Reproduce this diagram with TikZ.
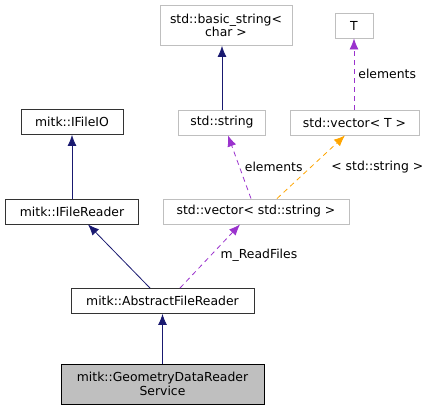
\documentclass[tikz,border=0pt]{standalone}
\usepackage{fontspec}
\setmainfont{DejaVu Sans}
\usetikzlibrary{arrows.meta}
\definecolor{navy}{HTML}{191970}
\definecolor{orchid}{HTML}{9A32CD}
\definecolor{orangeA}{HTML}{FFA500}
\definecolor{boxgray}{HTML}{BFBFBF}
\definecolor{mainfill}{HTML}{BFBFBF}
\begin{document}
\begin{tikzpicture}[x=1pt,y=-1pt,
  every node/.style={font=\fontsize{12.4}{13.5}\selectfont, inner sep=0pt, text=black},
  cls/.style={draw=black!80, line width=0.9pt, minimum height=25pt, align=center},
  ext/.style={draw=boxgray, line width=0.9pt, minimum height=25pt, align=center},
  mainbox/.style={draw=black, fill=mainfill, line width=0.9pt, minimum height=40pt, align=center},
  inherit/.style={navy, line width=0.8pt, -{Latex[length=11pt,width=9pt]}},
  usage/.style={orchid, line width=0.8pt, dash pattern=on 5pt off 4pt, -{Latex[length=11pt,width=9pt]}},
  templ/.style={orangeA, line width=0.8pt, dash pattern=on 5pt off 4pt, -{Latex[length=11pt,width=9pt]}},
  lbl/.style={text=black}]
\useasboundingbox (0,0) rectangle (432,411);
\node[ext, minimum width=132pt, minimum height=40pt] (bs) at (226,25.5) {std::basic\_string<\\char >};
\node[ext, minimum width=38pt] (T) at (354,25.5) {T};
\node[ext, minimum width=87pt] (str) at (222,122.5) {std::string};
\node[ext, minimum width=129pt] (vecT) at (354.5,122.5) {std::vector< T >};
\node[cls, minimum width=102pt] (ifio) at (72,122) {mitk::IFileIO};
\node[cls, minimum width=133pt] (ifr) at (72,211.5) {mitk::IFileReader};
\node[ext, minimum width=186pt] (vecS) at (256,211.5) {std::vector< std::string >};
\node[cls, minimum width=183pt] (afr) at (162.5,301) {mitk::AbstractFileReader};
\node[mainbox, minimum width=203pt] (gdrs) at (162.5,384) {mitk::GeometryDataReader\\Service};

\draw[inherit] (str.north) -- (str.north |- bs.south);
\draw[inherit] (ifr.north) -- (ifio.south);
\draw[inherit] (gdrs.north) -- (afr.south);
\draw[inherit] ([xshift=-12.5pt]afr.north) -- ([xshift=16pt]ifr.south);
\draw[usage] ([xshift=17.5pt]afr.north) -- ([xshift=-16pt]vecS.south)
  node[lbl, pos=0.52, anchor=west, xshift=9pt] (l3) {m\_ReadFiles};
\draw[usage] (vecT.north -| T.south) -- (T.south)
  node[lbl, midway, anchor=west, xshift=4pt] (l1) {elements};
\draw[usage] ([xshift=-5pt]vecS.north) -- ([xshift=6pt]str.south)
  node[lbl, midway, anchor=west, xshift=5pt] (l2) {elements};
\draw[templ] ([xshift=21pt]vecS.north) -- ([xshift=-9.5pt]vecT.south)
  node[lbl, midway, anchor=west, xshift=20pt] (l4) {< std::string >};
\end{tikzpicture}
\end{document}
